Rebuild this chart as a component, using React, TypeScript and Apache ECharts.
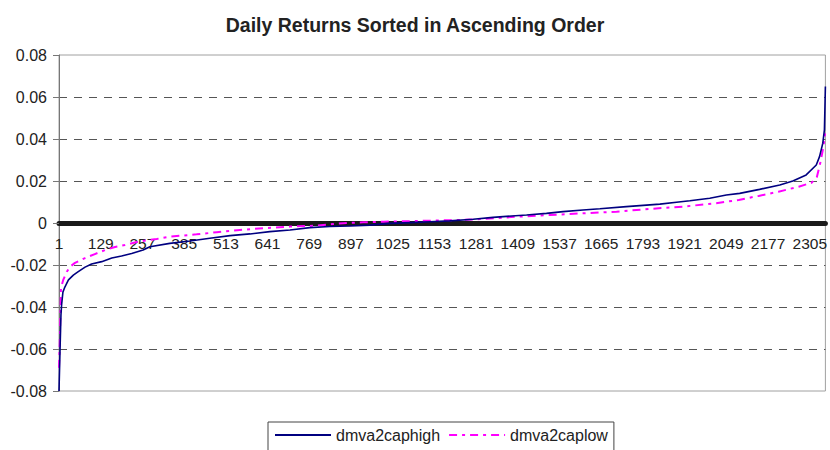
import React, { useEffect, useRef } from 'react';
import * as echarts from 'echarts';

const titleText = 'Daily Returns Sorted in Ascending Order';
const seriesNames = ['dmva2caphigh', 'dmva2caplow'];
const lastIndex = 2352; // 0-based index of the last observation (label = index + 1)
const xLabelStep = 128;
const yMin = -0.08;
const yMax = 0.08;
const yStep = 0.02;

// dmva2caphigh: observation index (0-based) and sorted daily return
const highIdx = [0, 3, 6, 8, 12, 18, 29, 44, 58, 80, 100, 131, 162, 192, 223, 258, 279, 340, 402, 463, 525, 586, 647, 709, 770, 831, 893, 954, 1015, 1077, 1138, 1199, 1271, 1332, 1435, 1496, 1547, 1608, 1660, 1741, 1844, 1895, 1936, 1997, 2048, 2089, 2150, 2212, 2252, 2293, 2324, 2334, 2344, 2349, 2352];
const highVal = [-0.080, -0.0614, -0.0438, -0.039, -0.0329, -0.0305, -0.0271, -0.0248, -0.0233, -0.021, -0.0195, -0.0184, -0.0167, -0.0157, -0.0145, -0.0129, -0.0113, -0.0097, -0.0086, -0.0073, -0.006, -0.0052, -0.0041, -0.0033, -0.0022, -0.0017, -0.0014, -0.001, -0.0002, 0.0002, 0.0006, 0.001, 0.0018, 0.0027, 0.0038, 0.0046, 0.0054, 0.0062, 0.0068, 0.0078, 0.009, 0.0099, 0.0106, 0.0118, 0.0133, 0.0141, 0.016, 0.0181, 0.02, 0.0229, 0.0276, 0.0316, 0.038, 0.0443, 0.065];

// dmva2caplow
const lowIdx = [0, 3, 4, 6, 13, 24, 34, 49, 80, 110, 141, 172, 202, 242, 300, 340, 422, 484, 555, 627, 709, 790, 872, 934, 995, 1138, 1220, 1302, 1404, 1506, 1608, 1711, 1813, 1915, 2017, 2086, 2147, 2208, 2270, 2310, 2326, 2336, 2346, 2351];
const lowVal = [-0.069, -0.0533, -0.0452, -0.031, -0.0271, -0.0232, -0.0208, -0.019, -0.0167, -0.0148, -0.0129, -0.0114, -0.0105, -0.0089, -0.0076, -0.0065, -0.0054, -0.0044, -0.0033, -0.0025, -0.0017, -0.0013, -0.0001, 0.0003, 0.0006, 0.0011, 0.0014, 0.0019, 0.003, 0.0038, 0.0046, 0.0054, 0.0067, 0.0078, 0.0094, 0.011, 0.0129, 0.0149, 0.0173, 0.0192, 0.022, 0.0284, 0.0363, 0.0427];

const FONT = 'Arial, "Liberation Sans", Helvetica, sans-serif';

const GRID_TOP = 55;
const GRID_BOTTOM = 59;
const CHART_H = 450;

export default function App() {
  const ref = useRef<HTMLDivElement>(null);
  useEffect(() => {
    if (!ref.current) return;
    const chart = echarts.init(ref.current, null, { renderer: 'svg' });
    const highData = highIdx.map((x, i) => [x, highVal[i]]);
    const lowData = lowIdx.map((x, i) => [x, lowVal[i]]);
    // shift the bottom x axis up to the zero line (labels stay just below it)
    const plotH = CHART_H - GRID_TOP - GRID_BOTTOM;
    const zeroOffset = -plotH * (0 - yMin) / (yMax - yMin);
    chart.setOption({
      animation: false,
      backgroundColor: '#ffffff',
      title: {
        text: titleText,
        left: 'center',
        top: 10,
        textStyle: { fontFamily: FONT, fontSize: 19.5, fontWeight: 'bold', color: '#222' },
      },
      grid: {
        left: 59,
        right: 3,
        top: GRID_TOP,
        bottom: GRID_BOTTOM,
        show: true,
        borderColor: '#a0a0a0',
        borderWidth: 1,
      },
      legend: {
        data: seriesNames,
        left: 268,
        top: 422,
        orient: 'horizontal',
        padding: [5, 6, 40, 6],
        borderColor: '#444',
        borderWidth: 1,
        itemWidth: 56,
        itemHeight: 14,
        itemGap: 8,
        itemStyle: { opacity: 0, color: 'transparent', borderColor: 'transparent', borderWidth: 0 },
        textStyle: { fontFamily: FONT, fontSize: 16, color: '#222' },
      },
      xAxis: {
        type: 'value',
        min: 0,
        max: lastIndex,
        interval: xLabelStep,
        position: 'bottom',
        offset: zeroOffset,
        axisLine: { onZero: false, lineStyle: { color: '#1a1a1a', width: 5 } },
        axisTick: { show: false },
        splitLine: { show: false },
        axisLabel: {
          margin: 12,
          fontFamily: FONT,
          fontSize: 15.5,
          color: '#222',
          formatter: (v: number) => (Math.round(v) % xLabelStep === 0 ? String(Math.round(v) + 1) : ''),
        },
      },
      yAxis: {
        type: 'value',
        min: yMin,
        max: yMax,
        interval: yStep,
        axisLine: { show: true, lineStyle: { color: '#777', width: 1 } },
        axisTick: { show: true, length: 6, lineStyle: { color: '#777' } },
        splitLine: {
          show: true,
          showMinLine: false,
          showMaxLine: false,
          lineStyle: { color: '#555', width: 1, type: [8, 7] },
        },
        axisLabel: {
          margin: 12,
          fontFamily: FONT,
          fontSize: 16,
          color: '#222',
        },
      },
      series: [
        {
          name: seriesNames[0],
          type: 'line',
          data: highData,
          symbol: 'none',
          lineStyle: { color: '#000080', width: 1.6 },
          itemStyle: { color: '#000080' },
          z: 3,
        },
        {
          name: seriesNames[1],
          type: 'line',
          data: lowData,
          symbol: 'none',
          lineStyle: { color: '#ff00ff', width: 2, type: [8, 5, 3, 5] },
          itemStyle: { color: '#ff00ff' },
          z: 2,
        },
      ],
    });
    return () => chart.dispose();
  }, []);
  return (
    <div
      ref={ref}
      style={{ position: 'fixed', left: 0, top: 0, width: 830, height: 450, background: '#fff' }}
    />
  );
}
